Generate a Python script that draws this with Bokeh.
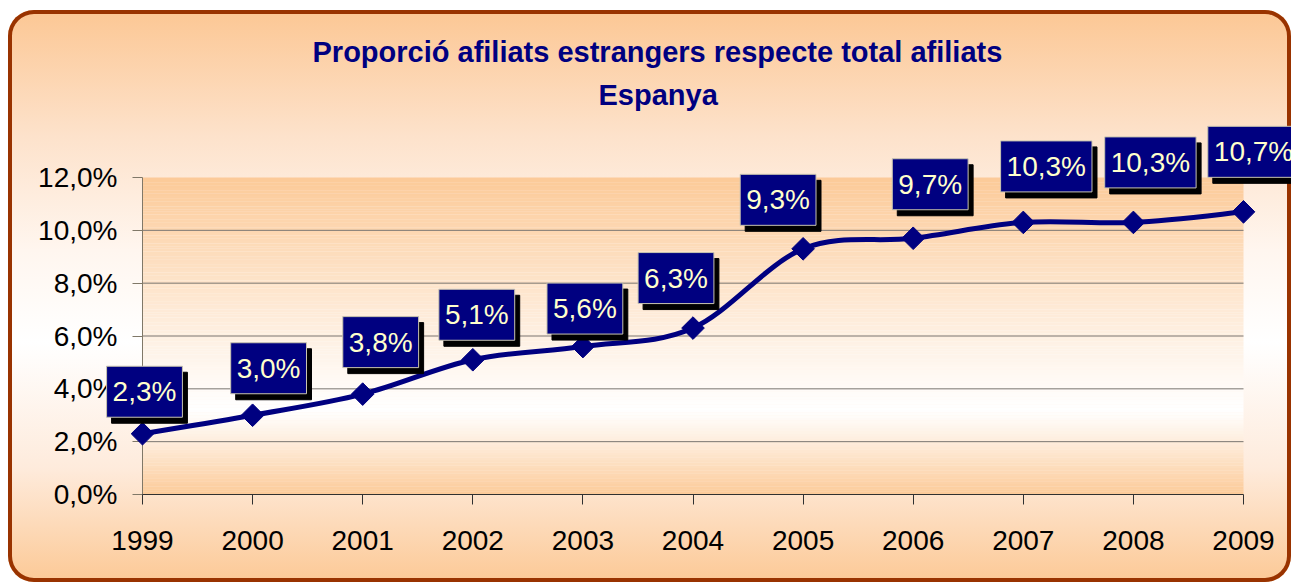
import numpy as np
from bokeh.plotting import figure
from bokeh.models import Range1d, FixedTicker, Label, Title, ColumnDataSource
from bokeh.embed import file_html
from bokeh.resources import INLINE

# ---------------- data ----------------
years = [1999, 2000, 2001, 2002, 2003, 2004, 2005, 2006, 2007, 2008, 2009]
values = [2.3, 3.0, 3.8, 5.1, 5.6, 6.3, 9.3, 9.7, 10.3, 10.3, 10.7]
value_labels = ["2,3%", "3,0%", "3,8%", "5,1%", "5,6%", "6,3%",
                "9,3%", "9,7%", "10,3%", "10,3%", "10,7%"]
y_ticks = [0, 2, 4, 6, 8, 10, 12]
y_tick_labels = ["0,0%", "2,0%", "4,0%", "6,0%", "8,0%", "10,0%", "12,0%"]
grid_ticks = [2, 4, 6, 8, 10]
title_line1 = "Proporció afiliats estrangers respecte total afiliats"
title_line2 = "Espanya"

# ---------------- layout / style ----------------
label_dx = [2, 16, 18, 4, 2, -17, -25, 17, 23, 17, 10]     # px
label_dy = [42, 47, 52, 45, 38, 50, 49, 54, 56, 60, 60]     # px
NAVY = "#000080"
FONT = "Liberation Sans"

W, H = 1283, 572
LEFT, RIGHT, TOP, BOTTOM = 20, 0, 104, 12
ppy = 110.1                       # px per year
ppu = 317 / 12.0                  # px per percent unit
x0 = years[0] - (134 - LEFT) / ppy
x1 = x0 + (W - LEFT - RIGHT) / ppy
y1 = y_ticks[-1] + (167 - TOP) / ppu
y0 = y_ticks[0] - ((H - BOTTOM) - 484) / ppu

p = figure(width=W, height=H, output_backend="svg", toolbar_location=None,
           x_range=Range1d(x0, x1), y_range=Range1d(y0, y1),
           min_border_left=LEFT, min_border_right=RIGHT,
           min_border_top=TOP, min_border_bottom=BOTTOM)
p.border_fill_alpha = 0
p.background_fill_alpha = 0
p.outline_line_color = None
p.styles = {
    "margin-left": "8px",
    "margin-top": "10px",
    "background": "linear-gradient(180deg, #FCC794 0%, #FDE2CB 22%, #FFF6EF 42%, #FFFFFF 58%, #FEEBDC 80%, #FCC996 100%)",
    "border-radius": "26px",
    "box-shadow": "inset 0 0 0 4px #993300",
}

# plot-area gradient (orange top & bottom, white near 3 %)
n = 120
edges = np.linspace(y_ticks[0], y_ticks[-1], n + 1)
mid = (edges[:-1] + edges[1:]) / 2
wc = 3.2
t = np.where(mid >= wc, (mid - wc) / (y_ticks[-1] - wc), (wc - mid) / wc)
t = np.clip(t, 0, 1) ** 1.1
orange = np.array([252, 202, 152])
white = np.array([255, 255, 255])
cols = ["#%02x%02x%02x" % tuple(np.round(white + (orange - white) * tt).astype(int)) for tt in t]
gsrc = ColumnDataSource(dict(bottom=edges[:-1], top=edges[1:] + 0.002, color=cols))
gr = p.quad(left=years[0], right=years[-1], bottom="bottom", top="top",
            fill_color="color", line_color=None, source=gsrc)
gr.level = "image"

# grid lines
p.xgrid.visible = False
p.ygrid.visible = False
sr = p.segment(x0=years[0], x1=years[-1], y0=grid_ticks, y1=grid_ticks,
               line_color="#7a7570", line_width=1)
sr.level = "underlay"

# axes
xa = p.xaxis[0]
xa.ticker = FixedTicker(ticks=years)
xa.fixed_location = y_ticks[0]
xa.bounds = (years[0], years[-1])
xa.axis_line_color = "#303030"
xa.major_tick_line_color = "#303030"
xa.major_tick_out = 10
xa.major_tick_in = 0
xa.minor_tick_line_color = None
xa.major_label_text_font = FONT
xa.major_label_text_font_size = "28px"
xa.major_label_text_color = "black"
xa.major_label_standoff = 26

ya = p.yaxis[0]
ya.ticker = FixedTicker(ticks=y_ticks)
ya.major_label_overrides = {k: v for k, v in zip(y_ticks, y_tick_labels)}
ya.fixed_location = years[0]
ya.bounds = (y_ticks[0], y_ticks[-1])
ya.axis_line_color = "#807868"
ya.major_tick_line_color = "#807868"
ya.major_tick_out = 10
ya.major_tick_in = 0
ya.minor_tick_line_color = None
ya.major_label_text_font = FONT
ya.major_label_text_font_size = "28px"
ya.major_label_text_color = "black"
ya.major_label_standoff = 15
ya.level = "underlay"

# smoothed line (Catmull-Rom -> cubic Bezier)
xs = np.array(years, dtype=float)
ys = np.array(values, dtype=float)
xp = np.concatenate([[xs[0]], xs, [xs[-1]]])
yp = np.concatenate([[ys[0]], ys, [ys[-1]]])
bx0, by0, bx1, by1 = xs[:-1], ys[:-1], xs[1:], ys[1:]
cx0 = xp[1:-2] + (xp[2:-1] - xp[0:-3]) / 6
cy0 = yp[1:-2] + (yp[2:-1] - yp[0:-3]) / 6
cx1 = xp[2:-1] - (xp[3:] - xp[1:-2]) / 6
cy1 = yp[2:-1] - (yp[3:] - yp[1:-2]) / 6
p.bezier(x0=bx0, y0=by0, x1=bx1, y1=by1, cx0=cx0, cy0=cy0, cx1=cx1, cy1=cy1,
         line_color=NAVY, line_width=5, line_cap="round")

p.scatter(years, values, marker="square", angle=np.pi / 4, size=16,
          fill_color=NAVY, line_color=NAVY)

# data labels (shadow first)
pad = dict(left=6, right=6, top=10, bottom=10)
for yr, v, txt, dx, dy in zip(years, values, value_labels, label_dx, label_dy):
    p.add_layout(Label(x=yr, y=v, x_offset=dx + 5, y_offset=dy - 6, text=txt,
                       text_font=FONT, text_font_size="28px", text_color="black",
                       text_align="center", text_baseline="middle",
                       background_fill_color="black", border_line_color="black",
                       padding=pad))
for yr, v, txt, dx, dy in zip(years, values, value_labels, label_dx, label_dy):
    p.add_layout(Label(x=yr, y=v, x_offset=dx, y_offset=dy, text=txt,
                       text_font=FONT, text_font_size="28px", text_color="#FFFFCC",
                       text_align="center", text_baseline="middle",
                       background_fill_color=NAVY, border_line_color="#C8C4B0",
                       border_line_width=1, padding=pad))

# titles
p.title.text = title_line1
p.title.text_font = FONT
p.title.text_font_style = "bold"
p.title.text_font_size = "29px"
p.title.text_color = NAVY
p.title.align = "left"
p.title.offset = 284
p.title.standoff = 10
t2 = Title(text=title_line2, text_font=FONT, text_font_style="bold",
           text_font_size="29px", text_color=NAVY, align="left", offset=570,
           standoff=8)
p.add_layout(t2, "above")

open("out.html", "w").write(file_html(p, INLINE))
